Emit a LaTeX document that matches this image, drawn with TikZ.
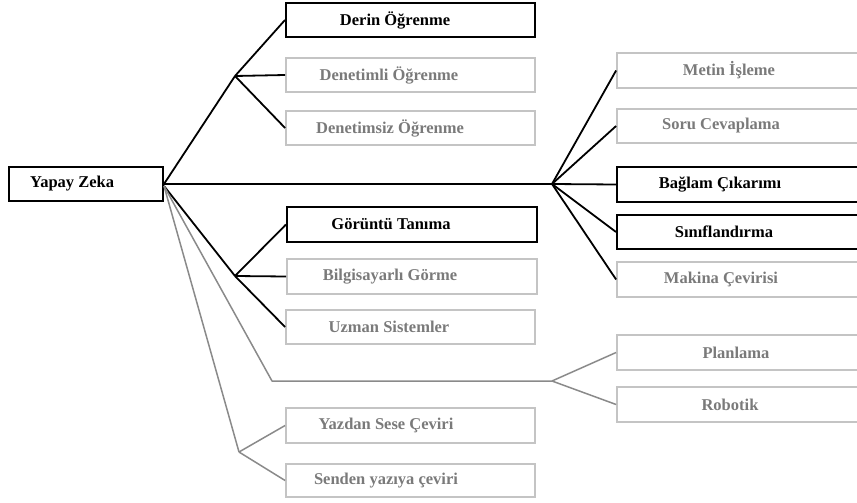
\documentclass[tikz,border=0pt]{standalone}
\usepackage{fontspec}
\setmainfont{Liberation Serif}
\definecolor{gbox}{HTML}{C4C4C4}
\definecolor{gtext}{HTML}{7A7A7A}
\definecolor{gline}{HTML}{8A8A8A}
\tikzset{
  bbox/.style={draw=black, line width=2pt, rectangle, inner sep=0pt},
  gbx/.style={draw=gbox, line width=1.8pt, rectangle, inner sep=0pt},
  btxt/.style={font=\bfseries\fontsize{16.5}{19}\selectfont, text=black, inner sep=0pt},
  gtxt/.style={font=\bfseries\fontsize{16.5}{19}\selectfont, text=gtext, inner sep=0pt},
  bcon/.style={draw=black, line width=1.8pt, line join=round},
  gcon/.style={draw=gline, line width=1.5pt, line join=round},
}
\begin{document}
\begin{tikzpicture}[x=1pt,y=-1pt]
\useasboundingbox (0,0) rectangle (857,503);
\clip (0,0) rectangle (857,503);
% boxes: center, width, height
\node[bbox, minimum width=154pt, minimum height=34pt] (yz) at (86,184) {};
\node[btxt, anchor=west] (tyz) at (30,184) {Yapay Zeka};

\node[bbox, minimum width=249pt, minimum height=34pt] (derin) at (410.5,20) {};
\node[btxt] (tderin) at (395,20) {Derin Öğrenme};
\node[gbx, minimum width=249pt, minimum height=34pt] (denl) at (410.5,75) {};
\node[gtxt] (tdenl) at (389,75) {Denetimli Öğrenme};
\node[gbx, minimum width=249pt, minimum height=34pt] (densiz) at (410.5,128) {};
\node[gtxt] (tdensiz) at (390,128) {Denetimsiz Öğrenme};

\node[bbox, minimum width=250pt, minimum height=35pt] (gor) at (412,224.5) {};
\node[btxt] (tgor) at (391,224.5) {Görüntü Tanıma};
\node[gbx, minimum width=250pt, minimum height=35pt] (bilgi) at (412,276.5) {};
\node[gtxt] (tbilgi) at (390,276.5) {Bilgisayarlı Görme};
\node[gbx, minimum width=249pt, minimum height=34pt] (uzman) at (410.5,327) {};
\node[gtxt] (tuzman) at (389,327) {Uzman Sistemler};

\node[gbx, minimum width=249pt, minimum height=35pt] (yazdan) at (410.5,425.5) {};
\node[gtxt] (tyazdan) at (386,425.5) {Yazdan Sese Çeviri};
\node[gbx, minimum width=249pt, minimum height=33pt] (senden) at (410.5,480.5) {};
\node[gtxt] (tsenden) at (386,480.5) {Senden yazıya çeviri};

\node[gbx, minimum width=253pt, minimum height=35pt] (metin) at (743.5,70.5) {};
\node[gtxt] (tmetin) at (729,70.5) {Metin İşleme};
\node[gbx, minimum width=253pt, minimum height=34pt] (soru) at (743.5,126) {};
\node[gtxt] (tsoru) at (721,126) {Soru Cevaplama};
\node[bbox, minimum width=253pt, minimum height=35pt] (baglam) at (743.5,184.5) {};
\node[btxt] (tbaglam) at (720,184.5) {Bağlam Çıkarımı};
\node[bbox, minimum width=253pt, minimum height=34pt] (sinif) at (743.5,232) {};
\node[btxt] (tsinif) at (724,232) {Sınıflandırma};
\node[gbx, minimum width=253pt, minimum height=35pt] (makina) at (743.5,279.5) {};
\node[gtxt] (tmakina) at (721,279.5) {Makina Çevirisi};
\node[gbx, minimum width=253pt, minimum height=35pt] (plan) at (743.5,352.5) {};
\node[gtxt] (tplan) at (736,352.5) {Planlama};
\node[gbx, minimum width=253pt, minimum height=35pt] (robot) at (743.5,404.5) {};
\node[gtxt] (trobot) at (730,404.5) {Robotik};

% junctions
\coordinate (j1) at (235,76);
\coordinate (j2) at (552,184);
\coordinate (j3) at (235,276);
\coordinate (c4) at (272,381);
\coordinate (j4) at (552,381);
\coordinate (j5) at (239,452);
\coordinate (yzo) at (164,184);
\coordinate (yzl) at (164,186);

% black connectors
\draw[bcon] (yzo) -- (j1);
\draw[bcon] (j1) -- (derin.west);
\draw[bcon] (j1) -- (denl.west);
\draw[bcon] (j1) -- (densiz.west);
\draw[bcon] (yzo) -- (j2);
\draw[bcon] (j2) -- (metin.west);
\draw[bcon] (j2) -- (soru.west);
\draw[bcon] (j2) -- (baglam.west);
\draw[bcon] (j2) -- (sinif.west);
\draw[bcon] (j2) -- (makina.west);
\draw[bcon] (yzl) -- (j3);
\draw[bcon] (j3) -- (gor.west);
\draw[bcon] (j3) -- (bilgi.west);
\draw[bcon] (j3) -- (uzman.west);
% gray connectors
\draw[gcon] (yzl) -- (c4) -- (j4);
\draw[gcon] (j4) -- (plan.west);
\draw[gcon] (j4) -- (robot.west);
\draw[gcon] (yzl) -- (j5);
\draw[gcon] (j5) -- (yazdan.west);
\draw[gcon] (j5) -- (senden.west);
\end{tikzpicture}
\end{document}
